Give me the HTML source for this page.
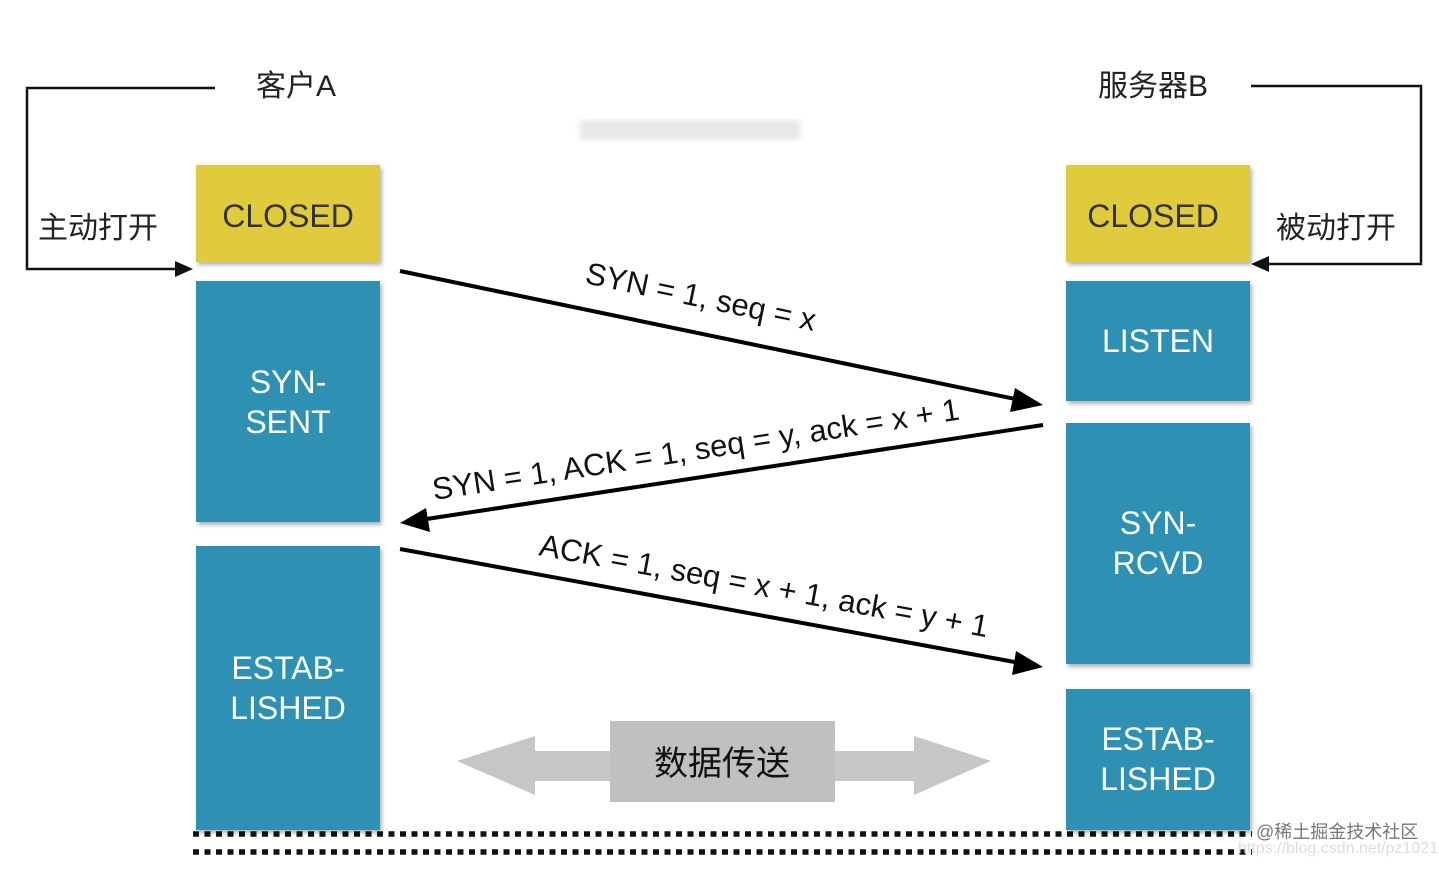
<!DOCTYPE html>
<html><head><meta charset="utf-8"><style>
html,body{margin:0;padding:0;background:#fff;}
svg text{font-family:"Liberation Sans","Noto Sans CJK SC",sans-serif;}
</style></head><body>
<svg width="1439" height="864" viewBox="0 0 1439 864" xmlns="http://www.w3.org/2000/svg">
<defs>
<filter id="sh" x="-10%" y="-10%" width="130%" height="130%"><feDropShadow dx="2" dy="3" stdDeviation="2" flood-color="#000" flood-opacity="0.3"/></filter>
<filter id="bl"><feGaussianBlur stdDeviation="3"/></filter>
</defs>
<rect x="580" y="120" width="220" height="20" fill="#e8e8e8" filter="url(#bl)"/>
<text x="296" y="96" font-size="30" text-anchor="middle" fill="#222">客户A</text>
<text x="1153" y="96" font-size="30" text-anchor="middle" fill="#222">服务器B</text>
<text x="98" y="238" font-size="30" text-anchor="middle" fill="#222">主动打开</text>
<text x="1336" y="238" font-size="30" text-anchor="middle" fill="#222">被动打开</text>
<polyline points="215,88 27,88 27,269 180,269" fill="none" stroke="#111" stroke-width="2.5"/>
<polygon points="193,269 175,261 175,277" fill="#111"/>
<polyline points="1251,86 1421,86 1421,264 1265,264" fill="none" stroke="#111" stroke-width="2.5"/>
<polygon points="1251,264 1269,256 1269,272" fill="#111"/>
<g filter="url(#sh)">
<rect x="196" y="165" width="184" height="97" fill="#e0cb3c"/>
<rect x="196" y="281" width="184" height="241" fill="#2f91b3"/>
<rect x="196" y="546" width="184" height="284" fill="#2f91b3"/>
<rect x="1066" y="165" width="184" height="97" fill="#e0cb3c"/>
<rect x="1066" y="281" width="184" height="120" fill="#2f91b3"/>
<rect x="1066" y="423" width="184" height="241" fill="#2f91b3"/>
<rect x="1066" y="689" width="184" height="141" fill="#2f91b3"/>
</g>
<g font-size="32" text-anchor="middle">
<text x="288" y="227" fill="#333">CLOSED</text>
<text x="1153" y="227" fill="#333">CLOSED</text>
<text x="288" y="393" fill="#fff">SYN-</text>
<text x="288" y="433" fill="#fff">SENT</text>
<text x="288" y="679" fill="#fff">ESTAB-</text>
<text x="288" y="719" fill="#fff">LISHED</text>
<text x="1158" y="352" fill="#fff">LISTEN</text>
<text x="1158" y="534" fill="#fff">SYN-</text>
<text x="1158" y="574" fill="#fff">RCVD</text>
<text x="1158" y="750" fill="#fff">ESTAB-</text>
<text x="1158" y="790" fill="#fff">LISHED</text>
</g>
<line x1="400" y1="271" x2="1020" y2="400" stroke="#000" stroke-width="4"/>
<polygon points="1043,405 1015,388 1010,412" fill="#000"/>
<line x1="1043" y1="425" x2="420" y2="520" stroke="#000" stroke-width="4"/>
<polygon points="400,523 426,508 430,532" fill="#000"/>
<line x1="400" y1="549" x2="1020" y2="663" stroke="#000" stroke-width="4"/>
<polygon points="1043,667 1016,651 1012,675" fill="#000"/>
<g font-size="31" fill="#111">
<text transform="translate(584,283) rotate(11.8)">SYN = 1, seq = x</text>
<text transform="translate(434,500) rotate(-8.7)">SYN = 1, ACK = 1, seq = y, ack = x + 1</text>
<text transform="translate(538,555) rotate(10.4)">ACK = 1, seq = x + 1, ack = y + 1</text>
</g>
<polygon points="457,761 535,736 535,751 914,751 914,736 991,761 914,795 914,781 535,781 535,795" fill="#c6c6c6"/>
<rect x="610" y="721" width="225" height="81" fill="#c0c0c0"/>
<text x="722" y="775" font-size="34" text-anchor="middle" fill="#111">数据传送</text>
<line x1="193" y1="834" x2="1252" y2="834" stroke="#111" stroke-width="5.5" stroke-dasharray="6 5.5"/>
<line x1="193" y1="852" x2="1252" y2="852" stroke="#111" stroke-width="5.5" stroke-dasharray="6 5.5"/>
<text x="1256" y="838" font-size="18" fill="#777">@稀土掘金技术社区</text>
<text x="1238" y="853" font-size="16" fill="#ddd">https://blog.csdn.net/pz1021</text>
</svg>
</body></html>
